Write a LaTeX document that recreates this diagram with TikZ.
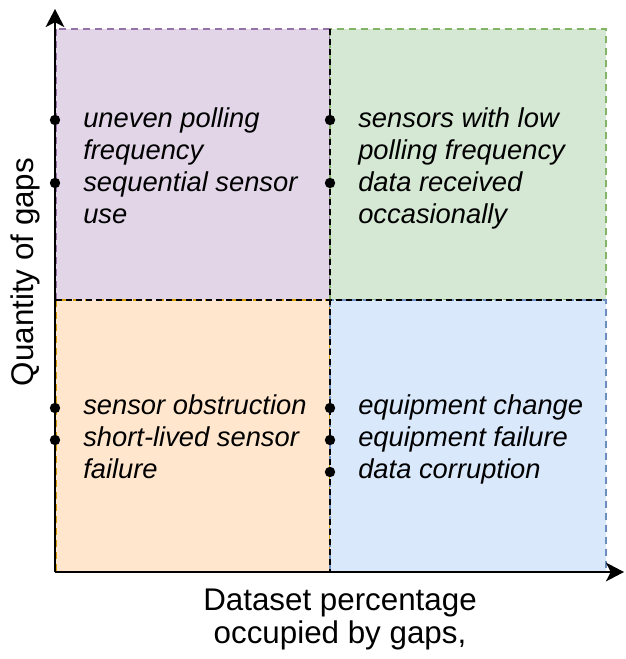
\documentclass[tikz,border=0pt]{standalone}
\usepackage{fontspec}
\setmainfont{Liberation Sans}
\usetikzlibrary{arrows.meta}
\definecolor{purplefill}{HTML}{E1D5E7}
\definecolor{purpleline}{HTML}{9673A6}
\definecolor{greenfill}{HTML}{D5E8D4}
\definecolor{greenline}{HTML}{82B366}
\definecolor{orangefill}{HTML}{FFE6CC}
\definecolor{orangeline}{HTML}{D79B00}
\definecolor{bluefill}{HTML}{DAE8FC}
\definecolor{blueline}{HTML}{6C8EBF}
\tikzset{
  quadrant/.style={line width=1.1pt, dash pattern=on 5.5pt off 3.5pt},
  divider/.style={line width=1.5pt, dash pattern=on 4.5pt off 3pt},
  axis/.style={line width=1.5pt, -{Stealth[length=13.5pt, width=14pt, inset=3.5pt]}},
  dot/.style={circle, fill=black, inner sep=0pt, minimum size=7.8pt},
  cause/.style={
    font=\fontsize{20.5}{23.8}\selectfont\itshape,
    align=left,
    anchor=base west,
    inner sep=0pt
  },
  axislabel/.style={font=\fontsize{23.5}{24.75}\selectfont, align=center, inner sep=0pt}
}

\begin{document}
\begin{tikzpicture}[x=0.75pt,y=-0.75pt]
\useasboundingbox (0,0) rectangle (625,659);

% quadrants
\coordinate (o) at (55,572);
\coordinate (ytip) at (55,9);
\coordinate (xtip) at (624,572);
\coordinate (mid) at (330,300);
\filldraw[quadrant, fill=purplefill, draw=purpleline] (56,29) rectangle (mid);
\filldraw[quadrant, fill=greenfill, draw=greenline] (330,29) rectangle (606,300);
\filldraw[quadrant, fill=orangefill, draw=orangeline] (56,300) rectangle (330,572);
\filldraw[quadrant, fill=bluefill, draw=blueline] (mid) rectangle (606,572);
\draw[divider] (330,29) -- (330,572);
\draw[divider] (56,300) -- (606,300);

% axes
\draw[axis] (o) -- (ytip);
\draw[axis] (o) -- (xtip);
\node[axislabel, rotate=90, anchor=base] (ylabel) at (33,272) {Quantity of gaps};
\node[axislabel, anchor=base] (xlabel) at (340,643) {Dataset percentage\\occupied by gaps,};

% causes (anchored on the last line)
\node[cause] (lowfew) at (83,223) {uneven polling\\frequency\\sequential sensor\\use};
\node[cause] (highfew) at (358,223) {sensors with low\\polling frequency\\data received\\occasionally};
\node[cause] (lowmany) at (83,478) {sensor obstruction\\short-lived sensor\\failure};
\node[cause] (highmany) at (358,478) {equipment change\\equipment failure\\data corruption};

\node[dot] (a1) at (55,120) {};
\node[dot] (a2) at (55,183) {};
\node[dot] (b1) at (330,120) {};
\node[dot] (b2) at (330,183) {};
\node[dot] (c1) at (55,408) {};
\node[dot] (c2) at (55,440) {};
\node[dot] (d1) at (330,408) {};
\node[dot] (d2) at (330,440) {};
\node[dot] (d3) at (330,472) {};
\end{tikzpicture}
\end{document}
